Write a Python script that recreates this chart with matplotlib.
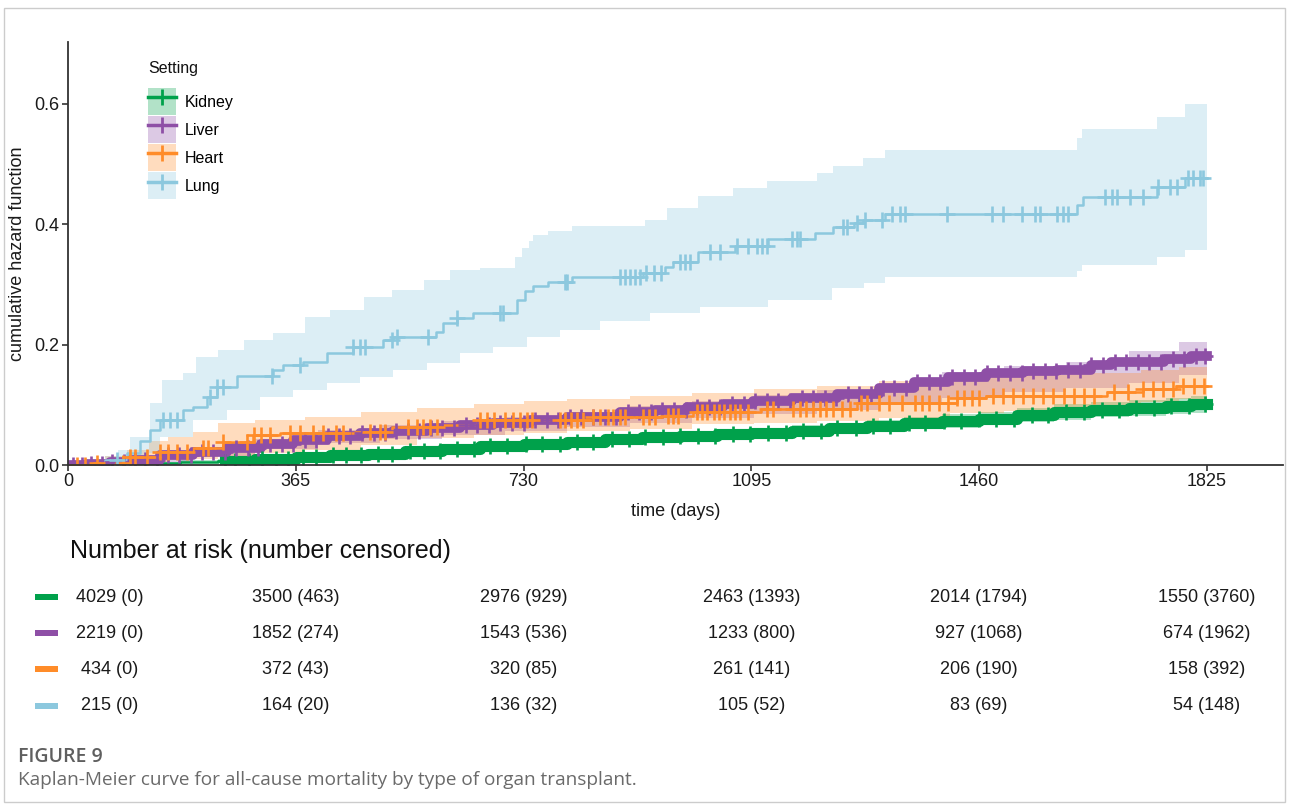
import numpy as np
import matplotlib
matplotlib.use("Agg")
import matplotlib.pyplot as plt
import matplotlib.transforms as mtransforms
from matplotlib.patches import Patch, Rectangle
from matplotlib.lines import Line2D
from matplotlib.legend_handler import HandlerTuple

plt.rcParams['font.family'] = ['Liberation Sans', 'DejaVu Sans']

END = 1825

# cumulative hazard steps (day, value)
kidney_t = [0, 60, 120, 180, 240, 300, 365, 420, 480, 540, 600, 660, 730, 800, 860, 920, 980, 1040, 1095, 1160,
            1220, 1280, 1340, 1400, 1460, 1520, 1580, 1640, 1700, 1760, 1800]
kidney_v = [0, 0.001, 0.003, 0.005, 0.007, 0.010, 0.013, 0.016, 0.019, 0.023, 0.027, 0.031, 0.035, 0.039, 0.043,
            0.046, 0.049, 0.051, 0.053, 0.057, 0.061, 0.065, 0.069, 0.073, 0.077, 0.083, 0.088, 0.092, 0.095, 0.098, 0.101]
kidney_lo = [0, 0, 0.001, 0.003, 0.005, 0.007, 0.009, 0.012, 0.015, 0.018, 0.022, 0.025, 0.029, 0.032, 0.036,
             0.039, 0.041, 0.043, 0.045, 0.048, 0.052, 0.055, 0.059, 0.062, 0.066, 0.071, 0.075, 0.079, 0.082, 0.085, 0.087]
kidney_hi = [0, 0.002, 0.005, 0.008, 0.010, 0.013, 0.017, 0.020, 0.024, 0.028, 0.032, 0.037, 0.041, 0.046, 0.050,
             0.053, 0.057, 0.059, 0.061, 0.066, 0.070, 0.075, 0.079, 0.084, 0.088, 0.095, 0.101, 0.105, 0.108, 0.111, 0.115]

liver_t = [0, 30, 67, 100, 147, 200, 255, 310, 361, 415, 468, 521, 575, 628, 681, 740, 800, 884, 940, 992, 1050,
           1098, 1160, 1232, 1300, 1356, 1410, 1471, 1530, 1585, 1640, 1671, 1756, 1800]
liver_v = [0, 0.002, 0.005, 0.009, 0.017, 0.022, 0.028, 0.035, 0.042, 0.048, 0.053, 0.057, 0.062, 0.066, 0.070,
           0.074, 0.079, 0.088, 0.092, 0.096, 0.101, 0.106, 0.112, 0.118, 0.128, 0.138, 0.146, 0.153, 0.156, 0.158,
           0.166, 0.171, 0.176, 0.181]
liver_ci_t = [0, 100, 200, 300, 400, 500, 600, 700, 800, 900, 1000, 1100, 1200, 1300, 1400, 1500, 1600, 1700, 1780]
liver_lo = [0, 0.005, 0.015, 0.026, 0.036, 0.043, 0.050, 0.056, 0.063, 0.070, 0.078, 0.085, 0.092, 0.100, 0.112,
            0.122, 0.128, 0.137, 0.150]
liver_hi = [0, 0.013, 0.030, 0.044, 0.058, 0.066, 0.073, 0.080, 0.088, 0.098, 0.106, 0.116, 0.124, 0.137, 0.155,
            0.165, 0.172, 0.190, 0.205]

heart_t = [0, 40, 94, 147, 200, 248, 296, 340, 460, 520, 600, 655, 841, 950, 1001, 1110, 1264, 1424, 1471, 1665,
           1722, 1775]
heart_v = [0, 0.003, 0.013, 0.022, 0.028, 0.038, 0.050, 0.053, 0.055, 0.063, 0.066, 0.075, 0.079, 0.081, 0.088,
           0.093, 0.103, 0.111, 0.115, 0.121, 0.126, 0.131]
heart_ci_t = [0, 30, 60, 95, 130, 160, 200, 240, 300, 380, 470, 560, 650, 730, 800, 900, 1000, 1100, 1200, 1300,
              1413, 1500, 1600, 1720, 1780]
heart_lo = [0, 0, 0.001, 0.003, 0.005, 0.008, 0.010, 0.015, 0.020, 0.025, 0.033, 0.045, 0.050, 0.053, 0.056, 0.060,
            0.068, 0.070, 0.073, 0.078, 0.086, 0.090, 0.095, 0.104, 0.110]
heart_hi = [0, 0.008, 0.015, 0.025, 0.040, 0.047, 0.055, 0.070, 0.075, 0.080, 0.088, 0.095, 0.101, 0.106, 0.109,
            0.114, 0.120, 0.126, 0.132, 0.140, 0.146, 0.150, 0.153, 0.158, 0.163]

lung_t = [0, 60, 95, 115, 131, 147, 184, 200, 223, 239, 271, 329, 345, 377, 415, 457, 505, 521, 590, 601, 623, 649,
          719, 733, 745, 769, 808, 921, 957, 970, 1010, 1069, 1122, 1197, 1226, 1260, 1274, 1309, 1617, 1627, 1745, 1790]
lung_v = [0, 0.008, 0.020, 0.040, 0.058, 0.075, 0.091, 0.096, 0.113, 0.130, 0.148, 0.158, 0.166, 0.171, 0.186, 0.196,
          0.208, 0.213, 0.221, 0.236, 0.244, 0.253, 0.274, 0.290, 0.297, 0.304, 0.312, 0.319, 0.329, 0.337, 0.354,
          0.364, 0.375, 0.386, 0.396, 0.403, 0.407, 0.417, 0.432, 0.445, 0.462, 0.477]
lung_hi_t = [0, 60, 80, 100, 131, 150, 184, 205, 240, 282, 328, 380, 420, 475, 520, 570, 612, 660, 716, 728, 738,
             745, 769, 808, 925, 960, 1010, 1066, 1120, 1200, 1226, 1274, 1309, 1617, 1625, 1745, 1790]
lung_hi = [0, 0.015, 0.025, 0.047, 0.103, 0.141, 0.153, 0.180, 0.191, 0.208, 0.219, 0.246, 0.258, 0.279, 0.291,
           0.307, 0.324, 0.327, 0.345, 0.360, 0.372, 0.382, 0.389, 0.397, 0.407, 0.427, 0.447, 0.460, 0.472, 0.485,
           0.497, 0.510, 0.524, 0.543, 0.558, 0.578, 0.600]
lung_lo_t = [0, 110, 130, 147, 200, 255, 308, 361, 415, 468, 521, 575, 628, 681, 735, 788, 852, 932, 1013, 1122,
             1224, 1276, 1310, 1617, 1625, 1745, 1790]
lung_lo = [0, 0.003, 0.020, 0.047, 0.075, 0.091, 0.113, 0.125, 0.136, 0.146, 0.158, 0.169, 0.186, 0.196, 0.213,
           0.224, 0.240, 0.252, 0.263, 0.274, 0.294, 0.302, 0.312, 0.322, 0.332, 0.346, 0.357]

# censoring times
kidney_cens = [252, 268, 290, 311, 334, 352, 377, 398, 425, 446, 470, 497, 519, 548, 571, 596, 624, 650, 677, 703,
               734, 760, 788, 815, 842, 871, 899, 925, 954, 981, 1010, 1036, 1066, 1093, 1121, 1150, 1178, 1206, 1233,
               1262, 1290, 1318, 1347, 1374, 1403, 1431, 1460, 1487, 1516, 1544, 1571, 1600, 1628, 1657, 1684, 1712,
               1741, 1768, 1797, 1822]
liver_cens = [8, 22, 37, 55, 71, 90, 108, 124, 143, 160, 178, 197, 214, 233, 251, 270, 288, 305, 324, 343, 360, 379,
              398, 416, 434, 452, 471, 490, 508, 526, 545, 563, 582, 600, 619, 637, 656, 674, 693, 712, 730, 748, 767,
              786, 804, 822, 841, 860, 878, 897, 915, 934, 952, 971, 990, 1008, 1027, 1045, 1064, 1083, 1101, 1120,
              1138, 1157, 1176, 1194, 1213, 1231, 1250, 1268, 1287, 1306, 1324, 1343, 1361, 1380, 1398, 1417, 1436,
              1454, 1473, 1491, 1510, 1528, 1547, 1566, 1584, 1603, 1621, 1640, 1658, 1677, 1696, 1714, 1733, 1751,
              1770, 1788, 1807, 1822]
heart_cens = [14, 27, 46, 88, 99, 107, 126, 147, 160, 174, 191, 217, 224, 248, 287, 298, 310, 324, 356, 372, 393, 409,
              430, 441, 484, 500, 508, 545, 560, 569, 580, 591, 660, 672, 683, 700, 713, 724, 735, 743, 788, 797, 806,
              815, 826, 841, 853, 865, 874, 885, 893, 921, 931, 941, 961, 970, 978, 1008, 1016, 1024, 1035, 1043, 1051,
              1061, 1069, 1077, 1090, 1120, 1130, 1162, 1173, 1183, 1194, 1205, 1215, 1226, 1240, 1253, 1270, 1281,
              1300, 1316, 1337, 1358, 1368, 1379, 1395, 1410, 1424, 1436, 1448, 1460, 1482, 1498, 1515, 1531, 1547,
              1563, 1579, 1596, 1612, 1628, 1644, 1676, 1699, 1722, 1738, 1755, 1771, 1787, 1804, 1820]
lung_cens = [79, 152, 163, 175, 228, 239, 248, 327, 372, 457, 468, 476, 519, 527, 577, 623, 692, 697, 796, 800, 884,
             892, 900, 908, 916, 927, 939, 951, 980, 988, 996, 1029, 1045, 1072, 1090, 1104, 1112, 1120, 1160, 1168,
             1173, 1242, 1248, 1264, 1277, 1304, 1320, 1333, 1341, 1408, 1480, 1498, 1529, 1549, 1557, 1585, 1594,
             1602, 1661, 1673, 1681, 1702, 1722, 1747, 1766, 1777, 1795, 1803, 1814, 1819]

# number at risk table
risk_times = [0, 365, 730, 1095, 1460, 1825]
kidney_risk = ["4029 (0)", "3500 (463)", "2976 (929)", "2463 (1393)", "2014 (1794)", "1550 (3760)"]
liver_risk = ["2219 (0)", "1852 (274)", "1543 (536)", "1233 (800)", "927 (1068)", "674 (1962)"]
heart_risk = ["434 (0)", "372 (43)", "320 (85)", "261 (141)", "206 (190)", "158 (392)"]
lung_risk = ["215 (0)", "164 (20)", "136 (32)", "105 (52)", "83 (69)", "54 (148)"]

names = ["Kidney", "Liver", "Heart", "Lung"]
colors = ["#00A14B", "#8E4FA6", "#FF8C29", "#8CC8DE"]


def step_at(t, v, q):
    t = np.asarray(t); v = np.asarray(v)
    idx = np.searchsorted(t, q, side='right') - 1
    return v[np.clip(idx, 0, len(v) - 1)]


def ext(t, v):
    return np.append(t, END), np.append(v, v[-1])


series = [
    dict(t=kidney_t, v=kidney_v, lo_t=kidney_t, lo=kidney_lo, hi_t=kidney_t, hi=kidney_hi, cens=kidney_cens, thick=8),
    dict(t=liver_t, v=liver_v, lo_t=liver_ci_t, lo=liver_lo, hi_t=liver_ci_t, hi=liver_hi, cens=liver_cens, thick=7),
    dict(t=heart_t, v=heart_v, lo_t=heart_ci_t, lo=heart_lo, hi_t=heart_ci_t, hi=heart_hi, cens=heart_cens, thick=0),
    dict(t=lung_t, v=lung_v, lo_t=lung_lo_t, lo=lung_lo, hi_t=lung_hi_t, hi=lung_hi, cens=lung_cens, thick=0),
]

W, H = 1290, 810
fig = plt.figure(figsize=(W / 100, H / 100), dpi=100)
ax = fig.add_axes([68 / W, 1 - 465 / H, (1283 - 68) / W, (465 - 42) / H])

# confidence bands
for s, c in zip(series, colors):
    grid = np.unique(np.concatenate([s['lo_t'], s['hi_t'], [END]]))
    lo = step_at(s['lo_t'], s['lo'], grid)
    hi = step_at(s['hi_t'], s['hi'], grid)
    ax.fill_between(grid, lo, hi, step='post', color=c, alpha=0.3, linewidth=0)

# curves
for s, c in zip(series, colors):
    x, y = ext(s['t'], s['v'])
    ax.step(x, y, where='post', color=c, lw=1.8)
    if s['thick']:
        c0 = s['cens'][0]
        xt = np.concatenate([[c0], np.asarray(s['t'])[np.asarray(s['t']) > c0], [END]])
        ax.step(xt, step_at(s['t'], s['v'], xt), where='post', color=c, lw=s['thick'])

# censor marks
for s, c in zip(series, colors):
    cy = step_at(s['t'], s['v'], s['cens'])
    ax.plot(s['cens'], cy, ls='none', marker='+', ms=11, mew=1.9, color=c)

ax.set_xlim(0, 1947)
ax.set_ylim(0, 0.703)
ax.set_xticks(risk_times)
ax.set_yticks([0, 0.2, 0.4, 0.6])
ax.set_yticklabels(["0.0", "0.2", "0.4", "0.6"])
for sp in ['top', 'right']:
    ax.spines[sp].set_visible(False)
for sp in ['left', 'bottom']:
    ax.spines[sp].set_color('#333333')
    ax.spines[sp].set_linewidth(1.3)
ax.tick_params(colors='#333333', width=1.2, length=4, labelsize=13, labelcolor='#1a1a1a', pad=2)
ax.set_xlabel("time (days)", fontsize=13, color='#1a1a1a', labelpad=9)
ax.set_ylabel("cumulative hazard function", fontsize=13, color='#1a1a1a', labelpad=6)

# legend (title drawn separately to get the wider gap)
fig.text(148 / W, 1 - 68 / H, "Setting", fontsize=11.5, va='center', ha='left', color='#111111')
handles = [(Patch(facecolor=c, alpha=0.3, edgecolor='none'),
            Line2D([], [], color=c, lw=2.5, marker='+', ms=12, mew=2)) for c in colors]
fig.legend(handles, names, loc='upper left', bbox_to_anchor=(148 / W, 1 - 88 / H),
           frameon=False, fontsize=11.5,
           handler_map={tuple: HandlerTuple(ndivide=1, pad=0)}, handlelength=1.75, handleheight=2.25,
           handletextpad=0.55, labelspacing=0.05, borderpad=0, borderaxespad=0)

# number at risk table
fig.text(70 / W, 1 - 551 / H, "Number at risk (number censored)", fontsize=18, va='center', ha='left',
         color='#111111')
tr = mtransforms.blended_transform_factory(ax.transData, fig.transFigure)
rows_y = [597, 633, 669, 706]
for risk, c, py in zip([kidney_risk, liver_risk, heart_risk, lung_risk], colors, rows_y):
    fig.patches.append(Rectangle((35 / W, 1 - (py + 3) / H), 23 / W, 6 / H, transform=fig.transFigure,
                                 facecolor=c, edgecolor='none'))
    for i, (tm, lab) in enumerate(zip(risk_times, risk)):
        off = mtransforms.ScaledTranslation(0.42 if i == 0 else 0, 0, fig.dpi_scale_trans)
        fig.text(tm, 1 - py / H, lab, transform=tr + off, ha='center', va='center', fontsize=13,
                 color='#1a1a1a')

# caption
fig.text(18 / W, 1 - 757 / H, "FIGURE 9", fontsize=14, color='#5f5f5f', fontweight='semibold',
         family=['Open Sans', 'DejaVu Sans'], va='center')
fig.text(18 / W, 1 - 780 / H, "Kaplan-Meier curve for all-cause mortality by type of organ transplant.",
         fontsize=13.7, color='#6a6a6a', family=['Open Sans', 'DejaVu Sans'], va='center')

# frame around the figure panel
fig.patches.append(Rectangle((4 / W, 1 - 802 / H), (1285 - 4) / W, (802 - 8) / H, transform=fig.transFigure,
                             facecolor='none', edgecolor='#cccccc', lw=1))

fig.savefig("out.png", dpi=100)
